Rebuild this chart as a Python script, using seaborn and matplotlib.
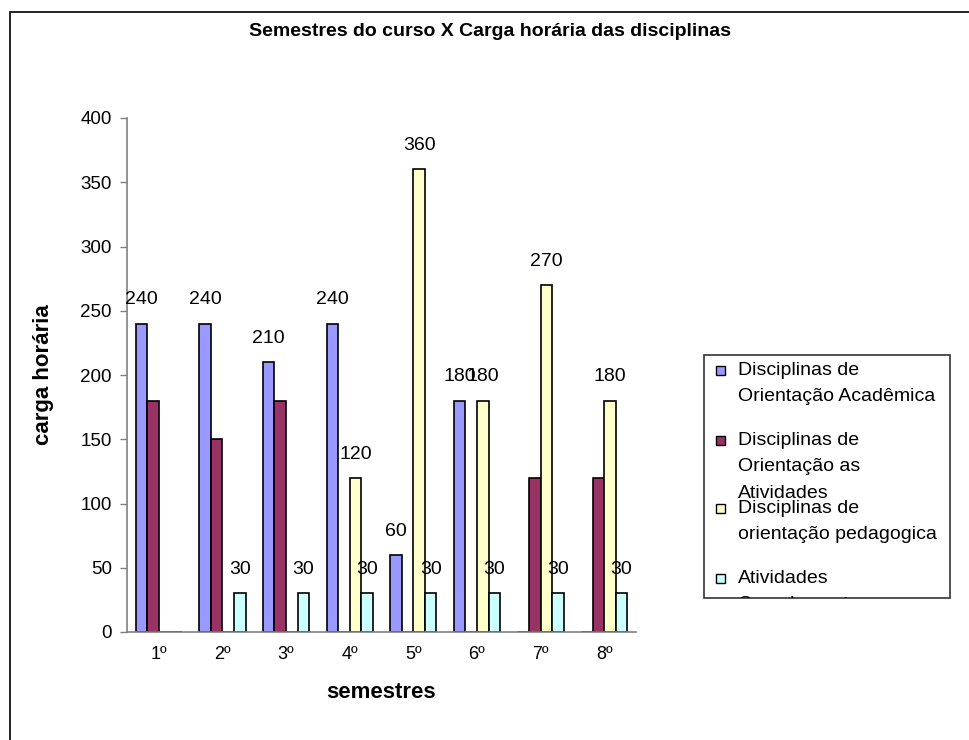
import numpy as np
import pandas as pd
import matplotlib
matplotlib.use("Agg")
import matplotlib.pyplot as plt
import seaborn as sns
from matplotlib.patches import Rectangle

# ---- data ----
semestres = ["1º", "2º", "3º", "4º", "5º", "6º", "7º", "8º"]
series = [
    "Disciplinas de\nOrientação Acadêmica",
    "Disciplinas de\nOrientação as\nAtividades",
    "Disciplinas de\norientação pedagogica",
    "Atividades\nComplementares",
]
academica = [240, 240, 210, 240, 60, 180, 0, 0]
atividades = [180, 150, 180, 0, 0, 0, 120, 120]
pedagogica = [0, 0, 0, 120, 360, 180, 270, 180]
complementares = [0, 30, 30, 30, 30, 30, 30, 30]
show_labels = [True, False, True, True]
colors = ["#9999FF", "#993366", "#FFFFCC", "#CCFFFF"]

values = [academica, atividades, pedagogica, complementares]
df = pd.DataFrame({
    "semestre": semestres * 4,
    "serie": np.repeat(series, len(semestres)),
    "carga": np.concatenate(values),
})

# ---- figure ----
sns.set_style("white")
plt.rcParams["font.family"] = ["Liberation Sans", "DejaVu Sans"]
plt.rcParams["text.color"] = "black"
plt.rcParams["axes.labelcolor"] = "black"
plt.rcParams["xtick.color"] = "black"
plt.rcParams["ytick.color"] = "black"

W, H = 969, 740
fig = plt.figure(figsize=(W / 100, H / 100), dpi=100)

def fx(x):
    return x / W

def fy(y):
    return 1 - y / H

ax = fig.add_axes([fx(127), fy(632), fx(636) - fx(127), fy(118) - fy(632)])

sns.barplot(data=df, x="semestre", y="carga", hue="serie", order=semestres,
            hue_order=series, palette=colors, width=0.727, gap=0,
            edgecolor="black", linewidth=1.2, saturation=1, ax=ax,
            legend=False, err_kws={"linewidth": 0})

for cont, vals, show in zip(ax.containers, values, show_labels):
    labels = [str(v) if (show and v > 0) else "" for v in vals]
    ax.bar_label(cont, labels=labels, padding=11, fontsize=14, color="black")

ax.set_ylim(0, 400)
ax.set_xlim(-0.5, 7.5)
ax.set_yticks(np.arange(0, 401, 50))
ax.set_xticks(range(len(semestres)))
ax.set_xticklabels(semestres)
ax.set_xticks(np.arange(-0.5, 8.0, 1.0), minor=True)
ax.tick_params(axis="x", which="major", length=0, pad=10, labelsize=13,
               labelcolor="black")
ax.tick_params(axis="x", which="minor", length=5, color="#808080", width=1)
ax.tick_params(axis="y", length=5, color="#808080", width=1, pad=6,
               labelsize=13.5, left=True, labelcolor="black")
for s in ["top", "right"]:
    ax.spines[s].set_visible(False)
for s in ["left", "bottom"]:
    ax.spines[s].set_color("#808080")
    ax.spines[s].set_linewidth(1.2)

ax.set_xlabel("semestres", fontsize=16, fontweight="bold", labelpad=14,
              color="black")
ax.set_ylabel("carga horária", fontsize=16, fontweight="bold", labelpad=19,
              color="black")

fig.text(fx(490), fy(31), "Semestres do curso X Carga horária das disciplinas",
         ha="center", va="center", fontsize=14, fontweight="bold",
         color="black")

# outer chart border
fig.patches.append(Rectangle((fx(10), fy(800)), fx(1000), fy(12) - fy(800),
                             transform=fig.transFigure, fill=False,
                             edgecolor="black", linewidth=1.2))

# legend box
lx0, lx1, ly0, ly1 = 704, 950, 355, 598
box = Rectangle((fx(lx0), fy(ly1)), fx(lx1) - fx(lx0), fy(ly0) - fy(ly1),
                transform=fig.transFigure, fill=True, facecolor="white",
                edgecolor="#333333", linewidth=1.2)
fig.patches.append(box)
first_line_y = [370, 440, 508, 578]
for lab, col, yy in zip(series, colors, first_line_y):
    fig.patches.append(Rectangle((fx(716), fy(yy + 4.5)), fx(9), fy(0) - fy(9),
                                 transform=fig.transFigure, facecolor=col,
                                 edgecolor="black", linewidth=1.0))
    t = fig.text(fx(738), fy(yy - 8), lab, ha="left", va="top",
                 fontsize=14, linespacing=1.72, color="black")
    t.set_clip_path(box)

fig.savefig("out.png", dpi=100)
